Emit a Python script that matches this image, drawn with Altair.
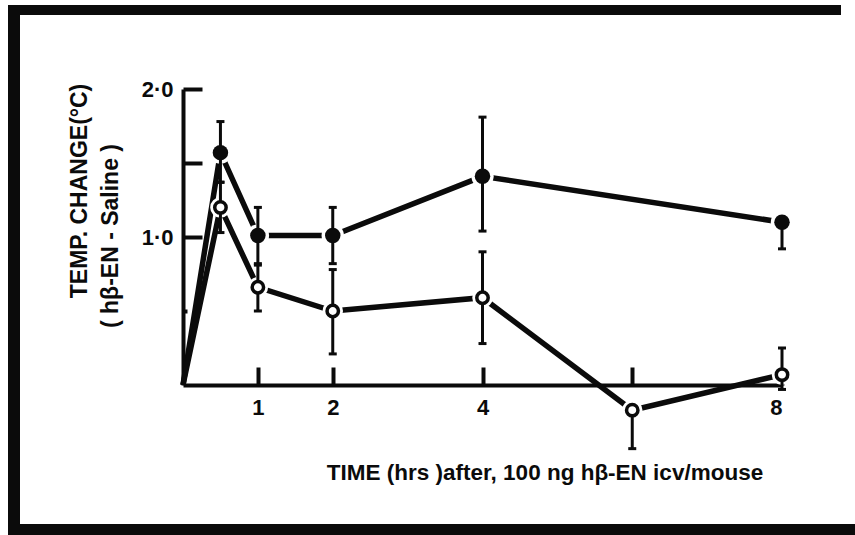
import altair as alt
import pandas as pd

INK = "#0b0b0b"
FONT = "Liberation Sans"

# Time course, closed circles
hours_solid = [0, 0.5, 1, 2, 4, 8]
change_solid = [0, 1.57, 1.01, 1.01, 1.41, 1.10]
upper_solid = [0, 1.78, 1.20, 1.20, 1.81, 1.10]
lower_solid = [0, 1.37, 0.82, 0.82, 1.04, 0.92]

# Time course, open circles
hours_hollow = [0, 0.5, 1, 2, 4, 6, 8]
change_hollow = [0, 1.20, 0.66, 0.50, 0.59, -0.17, 0.07]
upper_hollow = [0, 1.37, 0.81, 0.78, 0.90, -0.17, 0.25]
lower_hollow = [0, 1.03, 0.50, 0.21, 0.28, -0.43, -0.03]

x_label_values = [1, 2, 4, 8]
x_tick_values = [1, 2, 4, 6, 8]
y_label_values = [1, 2]
y_tick_values = [0.5, 1, 1.5, 2]

y_title_lines = ["TEMP. CHANGE(°C)", "( hβ-EN - Saline )"]
x_title = "TIME (hrs )after, 100 ng hβ-EN icv/mouse"

solid = pd.DataFrame({"hours": hours_solid, "change": change_solid,
                      "upper": upper_solid, "lower": lower_solid,
                      "group": "solid"})
hollow = pd.DataFrame({"hours": hours_hollow, "change": change_hollow,
                       "upper": upper_hollow, "lower": lower_hollow,
                       "group": "hollow"})
df = pd.concat([solid, hollow], ignore_index=True)

xs = alt.Scale(domain=[0, 8], nice=False, zero=False)
ys = alt.Scale(domain=[0, 2], nice=False, zero=False)

base = alt.Chart(df)
marked = base.transform_filter("datum.hours > 0")

# Connecting lines; this layer carries the axis lines and labels
lines = base.mark_line(strokeWidth=5.5, color=INK).encode(
    x=alt.X("hours:Q", scale=xs, axis=alt.Axis(
        orient="bottom", values=x_label_values, title=None, grid=False,
        domain=True, domainColor=INK, domainWidth=4, ticks=False,
        labelFont=FONT, labelFontWeight="bold", labelFontSize=22,
        labelColor=INK, labelPadding=12)),
    y=alt.Y("change:Q", scale=ys, axis=alt.Axis(
        orient="left", values=y_label_values, title=None, grid=False,
        domain=True, domainColor=INK, domainWidth=4, ticks=False,
        labelExpr="replace(format(datum.value, '.1f'), '.', '·')",
        labelFont=FONT, labelFontWeight="bold", labelFontSize=22,
        labelColor=INK, labelPadding=10, labelBaseline="middle")),
    detail="group:N",
    order="hours:Q",
)

# White halos so the lines stop short of the markers
halo = marked.mark_point(filled=True, color="white", opacity=1, shape="circle").encode(
    x=alt.X("hours:Q", scale=xs, axis=None),
    y=alt.Y("change:Q", scale=ys, axis=None),
    size=alt.condition("datum.group == 'solid'", alt.value(500), alt.value(420)),
)

err = marked.mark_rule(strokeWidth=3, color=INK).encode(
    x=alt.X("hours:Q", scale=xs, axis=None),
    y=alt.Y("lower:Q", scale=ys, axis=None),
    y2="upper:Q",
)
cap_hi = marked.mark_tick(orient="horizontal", size=8, thickness=3, color=INK, opacity=1).encode(
    x=alt.X("hours:Q", scale=xs, axis=None),
    y=alt.Y("upper:Q", scale=ys, axis=None),
)
cap_lo = marked.mark_tick(orient="horizontal", size=8, thickness=3, color=INK, opacity=1).encode(
    x=alt.X("hours:Q", scale=xs, axis=None),
    y=alt.Y("lower:Q", scale=ys, axis=None),
)

# Markers; this layer carries the inward-pointing tick marks
dots_solid = marked.transform_filter("datum.group == 'solid'").mark_point(
    filled=True, color=INK, opacity=1, shape="circle", size=240).encode(
    x=alt.X("hours:Q", scale=xs, axis=alt.Axis(
        orient="top", offset=-296, values=x_tick_values, title=None,
        grid=False, domain=False, labels=False, ticks=True,
        tickColor=INK, tickWidth=4, tickSize=18)),
    y=alt.Y("change:Q", scale=ys, axis=alt.Axis(
        orient="right", offset=-599, values=y_tick_values, title=None,
        grid=False, domain=False, labels=False, ticks=True,
        tickColor=INK, tickWidth=4,
        tickSize={"condition": {"test": "datum.value == 0.5", "value": 4},
                  "value": 19})),
)
dots_hollow = marked.transform_filter("datum.group == 'hollow'").mark_point(
    filled=False, fill="white", stroke=INK, strokeWidth=3.5, opacity=1,
    shape="circle", size=130).encode(
    x=alt.X("hours:Q", scale=xs, axis=None),
    y=alt.Y("change:Q", scale=ys, axis=None),
)

one = pd.DataFrame({"k": [0]})

# Axis titles
y_title_a = alt.Chart(pd.DataFrame({"t": [y_title_lines[0]]})).mark_text(
    font=FONT, fontWeight="bold", fontSize=23, color=INK, angle=270,
    align="center", baseline="middle").encode(
    text="t:N", x=alt.value(-103), y=alt.value(102))
y_title_b = alt.Chart(pd.DataFrame({"t": [y_title_lines[1]]})).mark_text(
    font=FONT, fontWeight="bold", fontSize=23, color=INK, angle=270,
    align="center", baseline="middle").encode(
    text="t:N", x=alt.value(-72), y=alt.value(147))
x_title_t = alt.Chart(pd.DataFrame({"t": [x_title]})).mark_text(
    font=FONT, fontWeight="bold", fontSize=22.5, color=INK,
    align="center", baseline="alphabetic").encode(
    text="t:N", x=alt.value(362), y=alt.value(391))

# Slide frame
frame_left = alt.Chart(one).mark_rect(color=INK).encode(
    x=alt.value(-175), x2=alt.value(-163), y=alt.value(-84), y2=alt.value(446))
frame_top = alt.Chart(one).mark_rect(color=INK).encode(
    x=alt.value(-175), x2=alt.value(658), y=alt.value(-84), y2=alt.value(-74))
frame_bottom = alt.Chart(one).mark_rect(color=INK).encode(
    x=alt.value(-175), x2=alt.value(672), y=alt.value(435), y2=alt.value(446))

chart = alt.layer(
    lines, halo, err, cap_hi, cap_lo, dots_solid, dots_hollow,
    y_title_a, y_title_b, x_title_t, frame_left, frame_top, frame_bottom,
).resolve_axis(x="independent", y="independent").properties(
    width=599, height=296,
    padding={"left": 183, "top": 89, "right": 73, "bottom": 150},
    autosize=alt.AutoSizeParams(type="none"),
    background="white",
).configure_view(stroke=None)

chart.save("out.html", embed_options={"renderer": "svg", "actions": False})
